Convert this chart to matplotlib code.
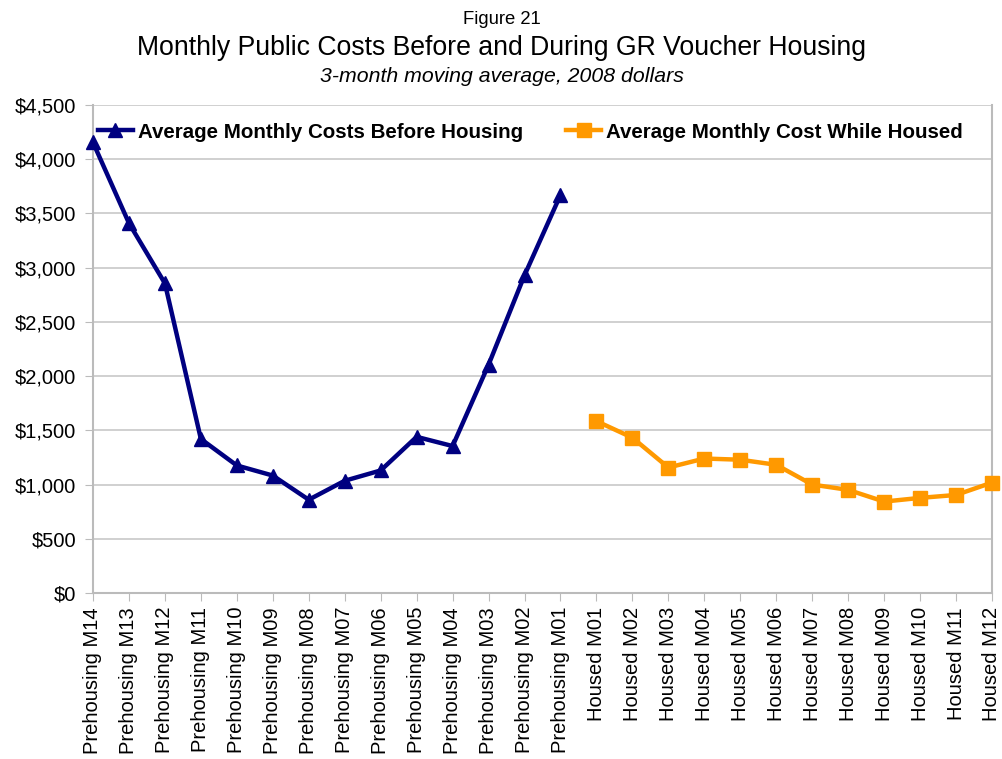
import matplotlib
matplotlib.use("Agg")
import matplotlib.pyplot as plt
from matplotlib.ticker import FuncFormatter, MultipleLocator

plt.rcParams['font.family'] = ['Liberation Sans', 'DejaVu Sans']

pre_labels = ["Prehousing M14", "Prehousing M13", "Prehousing M12", "Prehousing M11",
              "Prehousing M10", "Prehousing M09", "Prehousing M08", "Prehousing M07",
              "Prehousing M06", "Prehousing M05", "Prehousing M04", "Prehousing M03",
              "Prehousing M02", "Prehousing M01"]
housed_labels = ["Housed M01", "Housed M02", "Housed M03", "Housed M04", "Housed M05",
                 "Housed M06", "Housed M07", "Housed M08", "Housed M09", "Housed M10",
                 "Housed M11", "Housed M12"]
pre_values = [4155, 3410, 2855, 1420, 1176, 1083, 860, 1035, 1130, 1440, 1355, 2105, 2930, 3670]
housed_values = [1585, 1432, 1157, 1240, 1229, 1182, 1000, 951, 843, 877, 904, 1018]

categories = pre_labels + housed_labels
n_pre = len(pre_labels)

fig = plt.figure(figsize=(10.03, 7.59), dpi=100)
ax = fig.add_axes([93/1003, 1-593/759, (992-93)/1003, (593-105)/759])

x_pre = list(range(n_pre))
x_h = list(range(n_pre, n_pre + len(housed_labels)))

ax.plot(x_pre, pre_values, color='#000080', lw=3.2, marker='^', ms=10,
        label='Average Monthly Costs Before Housing', clip_on=False, zorder=3)
ax.plot(x_h, housed_values, color='#FF9900', lw=3.2, marker='s', ms=9.5,
        label='Average Monthly Cost While Housed', clip_on=False, zorder=3)

ax.set_xlim(0, len(categories) - 1)
ax.set_ylim(0, 4500)
ax.yaxis.set_major_locator(MultipleLocator(500))
ax.yaxis.set_major_formatter(FuncFormatter(lambda v, p: f"${v:,.0f}"))
ax.set_xticks(range(len(categories)))
ax.set_xticklabels(categories, rotation=90, fontsize=14.5)
ax.tick_params(axis='y', labelsize=14.5, length=6, color='#BBBBBB', pad=6)
ax.tick_params(axis='x', length=6, color='#BBBBBB', pad=4)
ax.grid(axis='y', color='#C8C8C8', lw=1.2)
ax.set_axisbelow(True)
ax.spines['top'].set_visible(False)
for s in ['left', 'bottom', 'right']:
    ax.spines[s].set_color('#BBBBBB')
    ax.spines[s].set_linewidth(1.5)

leg = ax.legend(loc='center left', bbox_to_anchor=(5/899, (593-132)/488), ncol=2, frameon=False,
                prop={'weight': 'bold', 'size': 14.8}, handlelength=1.7, handletextpad=0.25,
                columnspacing=2.1, borderaxespad=0, borderpad=0)

fig.text(0.5, 1-20/759, "Figure 21", ha='center', va='center', fontsize=13.3)
fig.text(0.5, 1-48/759, "Monthly Public Costs Before and During GR Voucher Housing",
         ha='center', va='center', fontsize=19.2)
fig.text(0.5, 1-76/759, "3-month moving average, 2008 dollars", ha='center', va='center',
         fontsize=15.3, style='italic')

fig.savefig("out.png", dpi=100)
